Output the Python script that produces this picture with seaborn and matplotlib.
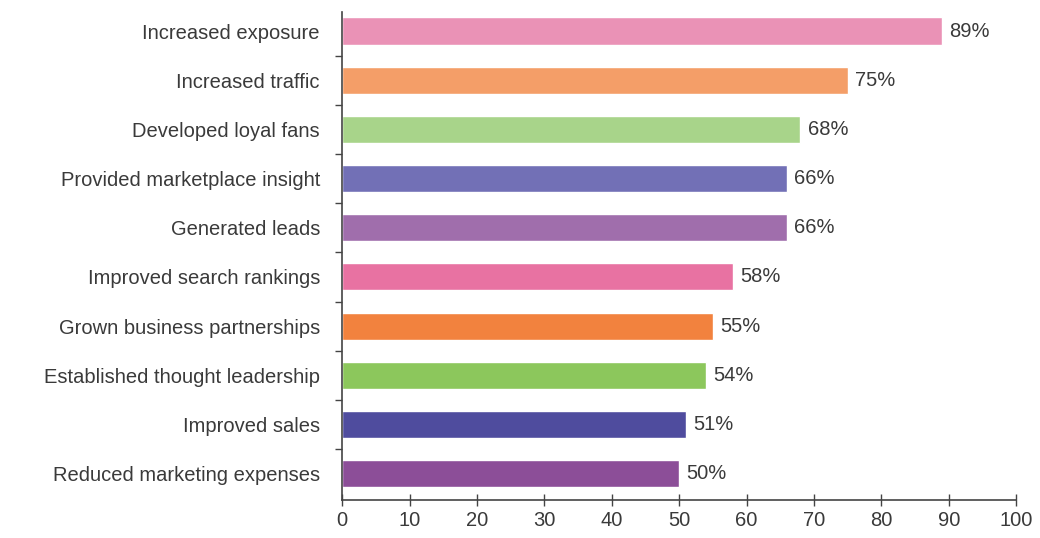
import matplotlib
matplotlib.use("Agg")
import matplotlib.pyplot as plt
import seaborn as sns
import pandas as pd
import numpy as np

categories = ["Increased exposure", "Increased traffic", "Developed loyal fans",
              "Provided marketplace insight", "Generated leads", "Improved search rankings",
              "Grown business partnerships", "Established thought leadership",
              "Improved sales", "Reduced marketing expenses"]
values = [89, 75, 68, 66, 66, 58, 55, 54, 51, 50]
colors = ["#EA92B6", "#F49E68", "#A8D48A", "#7270B6", "#A06EAC",
          "#E872A2", "#F2823E", "#8CC75C", "#4F4C9E", "#8C4E98"]

sns.set_style("white")
plt.rcParams["font.family"] = ["Liberation Sans", "DejaVu Sans"]

df = pd.DataFrame({"cat": categories, "val": values})

fig = plt.figure(figsize=(10.4, 5.38), dpi=100)
ax = fig.add_axes([0.329, 0.071, 0.648, 0.907])
sns.barplot(data=df, x="val", y="cat", hue="cat", palette=colors, orient="h",
            width=0.55, legend=False, ax=ax, saturation=1)

for i, v in enumerate(values):
    ax.text(v + 1.1, i, f"{v}%", va="center", ha="left", fontsize=14.5, color="#3a3a3a")

ax.set_xlim(0, 100)
ax.set_ylim(9.53, -0.39)
ax.set_xticks(range(0, 101, 10))
ax.set_xlabel("")
ax.set_ylabel("")
ax.set_yticks(np.arange(0.5, 9.5, 1), minor=True)
ax.tick_params(axis="y", which="major", length=0, pad=16, labelsize=14.5, labelcolor="#3a3a3a")
ax.tick_params(axis="y", which="minor", length=5, width=1, color="#444444", direction="out", left=True)
ax.tick_params(axis="x", length=8, width=1, color="#444444", direction="inout", pad=4,
               labelsize=14.5, labelcolor="#3a3a3a", bottom=True)
for s in ["top", "right"]:
    ax.spines[s].set_visible(False)
for s in ["left", "bottom"]:
    ax.spines[s].set_color("#444444")
    ax.spines[s].set_linewidth(1.2)

fig.savefig("out.png", dpi=100)
